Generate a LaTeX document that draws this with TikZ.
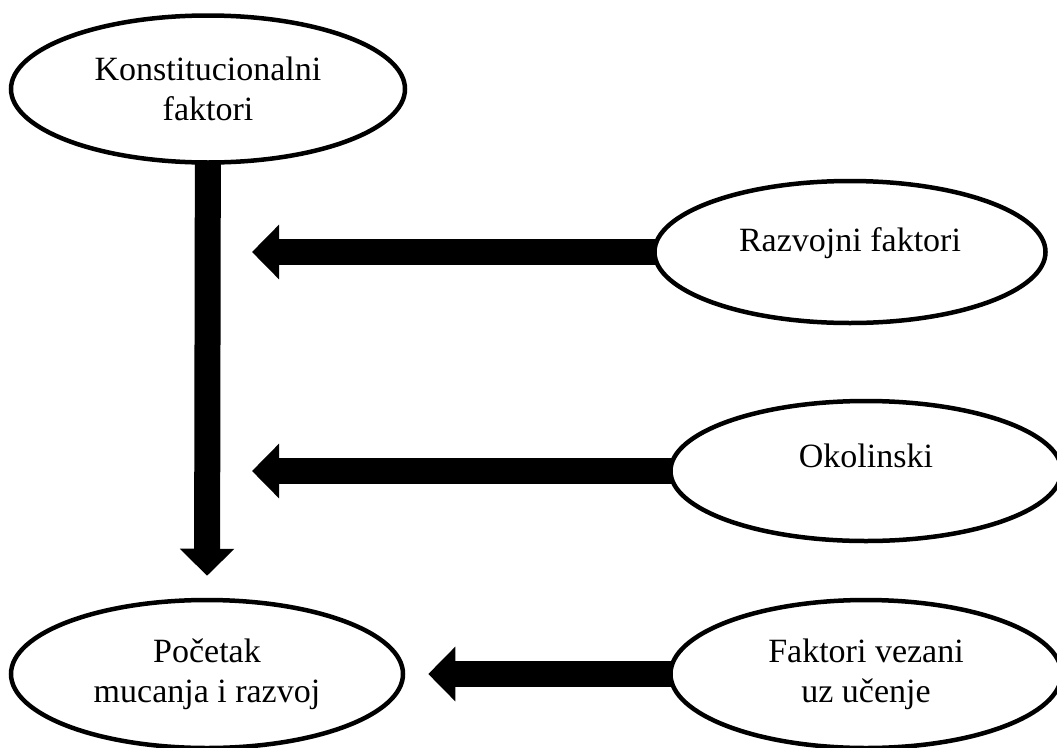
\documentclass[tikz,border=0pt]{standalone}
\usepackage{fontspec}
\setmainfont{Liberation Serif}
\usetikzlibrary{arrows.meta,shapes.geometric,backgrounds,positioning}

\begin{document}
\begin{tikzpicture}[x=1pt,y=-1pt,
  factorellipse/.style={ellipse,draw,line width=4.5pt,fill=white,inner sep=0pt,align=center,
    minimum width=392pt,minimum height=146pt,font=\fontsize{34}{40}\selectfont},
  bigarrow/.style={line width=26pt,-{Triangle[width=53pt,length=27pt]}}]

\useasboundingbox (0,0) rectangle (1057,747);

\node (konstitucionalni) [factorellipse,minimum width=394pt,minimum height=147pt] at (208,89) {Konstitucionalni\\faktori};
\node (razvojni) [factorellipse,minimum width=391pt,minimum height=142pt] at (850,252) {\raisebox{9pt}[\height][\depth]{Razvojni faktori}};
\node (okolinski) [factorellipse,minimum width=391pt,minimum height=140pt] at (866,471) {\raisebox{15pt}[\height][\depth]{Okolinski}};
\node (pocetak) [factorellipse,minimum height=148pt] at (207,674) {Početak\\mucanja i razvoj};
\node (faktori) [factorellipse,minimum width=391pt,minimum height=148pt] at (866,674) {Faktori vezani\\uz učenje};

\begin{scope}[on background layer]
\draw [bigarrow,shorten >=22pt] (konstitucionalni.center) -- (pocetak.north);
\draw [bigarrow,shorten >=44pt] (razvojni.center) -- (razvojni.center -| konstitucionalni.center);
\draw [bigarrow,shorten >=44pt] (okolinski.center) -- (okolinski.center -| konstitucionalni.center);
\draw [bigarrow,shorten >=23pt] (faktori.center) -- (pocetak.east);
\end{scope}

\end{tikzpicture}
\end{document}
